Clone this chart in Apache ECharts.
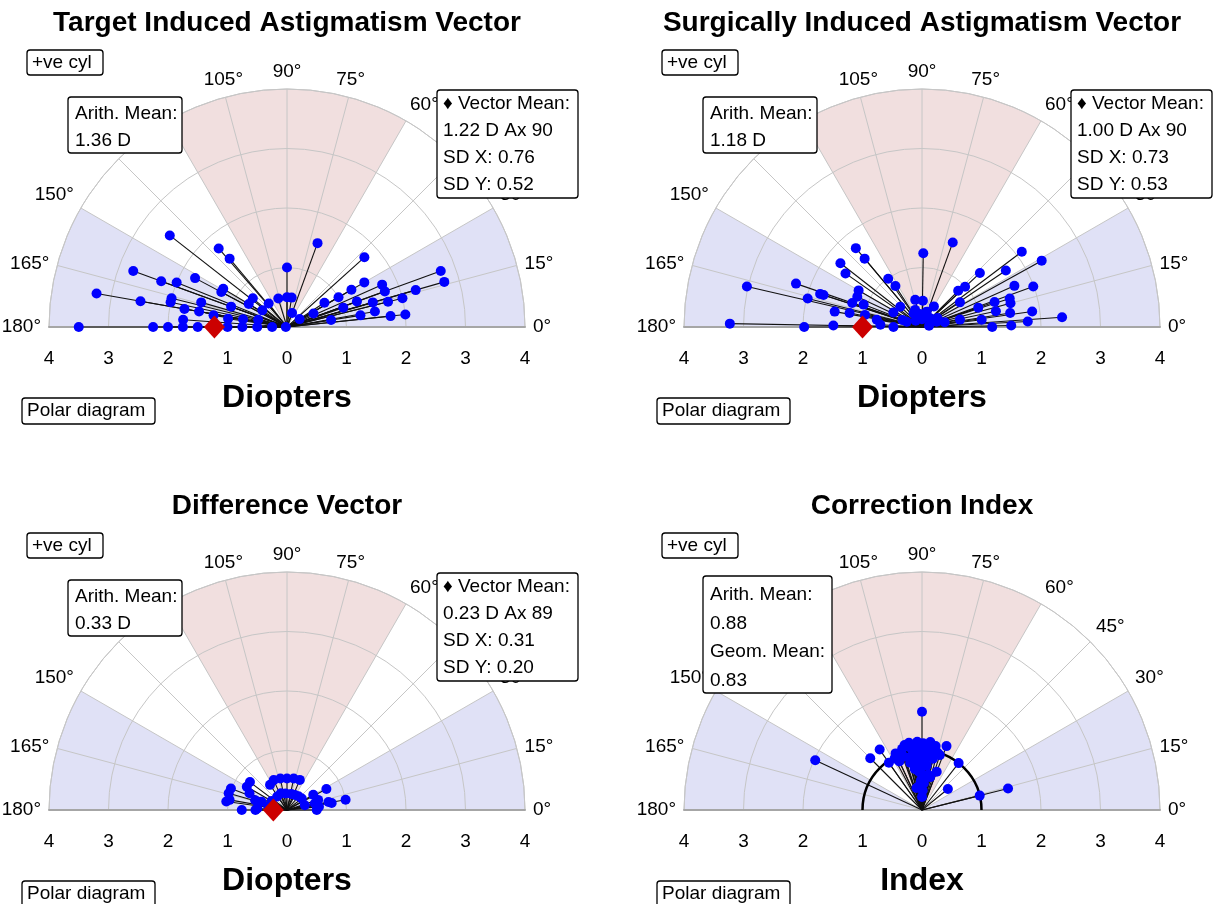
<!DOCTYPE html>
<html><head><meta charset="utf-8">
<script src="https://cdn.jsdelivr.net/npm/echarts@6/dist/echarts.min.js"></script>
<style>html,body{margin:0;padding:0;background:#fff}#c{width:1213px;height:904px}</style>
</head><body><div id="c"></div><script>
// ---- data: [magnitude, plotted angle in degrees] ----
const tiaPoints = [
 [2.5,142],[1.75,131],[1.5,130],[1.0,90],[2.75,160],[2.25,160],[2.0,158],[1.75,152],[3.25,170],[2.5,170],
 [2.0,166],[2.0,168],[1.25,149],[1.25,152],[1.5,164],[1.75,170],[1.5,170],[1.0,160],[0.75,140],[0.75,149],
 [0.5,107],[0.5,128],[0.5,146],[1.25,171],[1.75,176],[1.0,172],[0.75,170],[0.5,166],[0.5,90],
 [3.5,180],[2.25,180],[2.0,180],[1.75,180],[1.5,180],[1.0,180],[0.75,180],[0.5,180],[0.25,180],[0.02,180],
 [1.5,70],[1.75,42],[2.75,20],[2.75,16],[1.5,30],[1.75,24],[1.25,30],[1.75,20],[2.25,16],[1.0,30],
 [0.75,33],[1.25,20],[1.5,16],[1.75,14],[2.0,14],[0.5,81],[1.0,19],[1.5,10],[1.25,9],[1.75,6],
 [2.0,6],[0.75,9],[0.5,27],[0.25,32],[0.25,70]
];
const siaPoints = [
 [1.73,130],[1.5,130],[1.74,142],[1.57,145],[1.24,89],[0.99,125],[0.82,123],[2.24,161],[3.02,167],[1.8,162],
 [1.74,162],[1.98,166],[1.23,150],[1.2,155],[1.24,161],[1.05,159],[1.49,170],[1.24,169],[1.49,179],[1.98,180],
 [3.23,179],[0.7,177],[0.48,180],[0.27,161],[0.47,104],[0.5,137],[0.54,153],[0.27,122],[0.98,168],[0.77,171],
 [1.51,70],[2.1,37],[2.3,29],[1.33,43],[1.7,34],[1.7,24],[1.99,20],[0.99,43],[0.86,45],[0.76,33],
 [1.0,19],[1.29,19],[1.55,18],[1.54,15],[1.27,12],[1.5,9],[1.87,8],[1.78,3],[2.36,4],[1.01,7],
 [1.18,0],[1.5,1],[0.65,11],[0.26,20],[0.44,88],[0.27,73],[0.31,112],[0.13,90],
 [0.2,50],[0.39,12],[0.35,160],[0.15,135],[0.3,30],[0.22,100],[0.4,60],[0.12,10]
];
const dvPoints = [
 [1.01,159],[1.02,164],[1.03,172],[0.98,170],[0.76,180],[0.78,143],[0.78,150],[0.69,156],[0.56,163],[0.5,177],
 [0.45,162],[0.51,124],[0.55,114],[0.54,102],[0.53,90],[0.54,78],[0.55,67],[0.28,126],[0.28,95],[0.285,62],
 [0.315,38],[0.31,15],[0.51,30],[0.48,13],[0.5,0],[0.75,28],[0.71,11],[0.76,9],[1.0,10],[0.54,6],
 [0.3,150],[0.32,170],[0.3,110],[0.28,75],[0.3,50],[0.53,180],[0.55,18]
];
const ciPoints = [
 [1.65,90],[1.98,155],[1.24,125],[1.23,135],[0.97,125],[1.49,14],[1.0,14],[0.56,39],[1.0,52],[1.15,69],
 [0.69,69],[0.38,104],[0.22,90],[1.13,105],[1.15,94],[1.15,83],[0.95,109],[1.0,89],[0.97,72],[0.73,89],
 [0.59,90],[0.57,76],[1.05,100],[1.1,97],[1.08,86],[1.02,80],[0.95,95],[0.9,85],[0.92,102],[0.88,78],
 [1.0,110],[1.05,115],[0.98,118],[0.85,92],[0.8,98],[0.75,84],[0.65,95],[0.5,92],[0.45,86],[1.12,89],
 [1.1,78],[1.0,75],[0.9,115],[1.03,92],[0.94,88],[0.82,104],[0.7,100],[0.6,80],[0.42,95],[0.33,88],
 [1.08,108],[0.97,98],[1.15,101]
];
const tiaMean = [1.22, 180];
const siaMean = [1.00, 180];
const dvMean = [0.23, 180];
const ciReference = [1, 0];
// shaded zones: [fromAngle, toAngle, kind]
const shadeZones = [[0,30,'blue'],[60,120,'pink'],[150,180,'blue']];
const angleLabelStep = 15;
const radiusMax = 4;

const titles = ['Target Induced Astigmatism Vector','Surgically Induced Astigmatism Vector','Difference Vector','Correction Index'];
const units = ['Diopters','Diopters','Diopters','Index'];
const infoLeft = [['Arith. Mean:','1.36 D'],['Arith. Mean:','1.18 D'],['Arith. Mean:','0.33 D'],['Arith. Mean:','0.88','Geom. Mean:','0.83']];
const infoRight = [['\u2666 Vector Mean:','1.22 D Ax 90','SD X: 0.76','SD Y: 0.52'],['\u2666 Vector Mean:','1.00 D Ax 90','SD X: 0.73','SD Y: 0.53'],['\u2666 Vector Mean:','0.23 D Ax 89','SD X: 0.31','SD Y: 0.20'],null];
const pointSets = [tiaPoints, siaPoints, dvPoints, ciPoints];
const means = [tiaMean, siaMean, dvMean, null];

// ---- layout ----
const R = 238;
const centers = [[287,327],[922,327],[287,810],[922,810]];
const FONT = 'Liberation Sans, Arial, sans-serif';
const GRID = '#c6c6c6';
const ZONE_COLORS = {blue:'#e0e1f6', pink:'#f1dfdf'};

const polar=[], angleAxis=[], radiusAxis=[], grid=[], xAxis=[], yAxis=[], series=[], graphic=[];

function box(x, y, w, h, lines, first, step, pad){
  graphic.push({type:'rect', z:100, shape:{x:x, y:y, width:w, height:h, r:3}, style:{fill:'#fff', stroke:'#000', lineWidth:1.3}});
  lines.forEach((t,k)=>graphic.push({type:'text', z:101, style:{text:t, x:x+pad, y:y+first+k*step, font:'19px '+FONT, fill:'#000', textVerticalAlign:'middle'}}));
}
function scrAngle(c, p){ let a = Math.atan2(p[1]-c[1], p[0]-c[0]); if (a > 1e-9) a -= 2*Math.PI; return a; }

centers.forEach((c,i)=>{
  const cx=c[0], cy=c[1];
  polar.push({center:[cx,cy], radius:R});
  angleAxis.push({polarIndex:i, type:'value', min:0, max:180, interval:angleLabelStep, startAngle:0, endAngle:180, clockwise:false, z:2,
    axisLine:{show:true, lineStyle:{color:GRID, width:1}}, axisTick:{show:false},
    axisLabel:{formatter:'{value}°', fontSize:19, color:'#000', margin:8, fontFamily:FONT},
    splitLine:{show:true, lineStyle:{color:GRID, width:1}}, splitArea:{show:false}});
  radiusAxis.push({polarIndex:i, type:'value', min:0, max:radiusMax, interval:1, z:2,
    axisLine:{show:false}, axisTick:{show:false}, axisLabel:{show:false},
    splitLine:{show:true, lineStyle:{color:GRID, width:1}}});
  grid.push({left:cx-R, top:cy-R, width:2*R, height:R});
  xAxis.push({gridIndex:i, type:'value', min:-4, max:4, interval:1, z:2,
    axisLabel:{formatter:v=>String(Math.abs(v)), fontSize:19, color:'#000', margin:22, fontFamily:FONT},
    axisLine:{show:true, onZero:false, lineStyle:{color:'#a6a6a6', width:2}}, axisTick:{show:false}, splitLine:{show:false},
    name:units[i], nameLocation:'middle', nameGap:55,
    nameTextStyle:{fontSize:32, fontWeight:'bold', color:'#000', fontFamily:FONT}});
  yAxis.push({gridIndex:i, type:'value', min:0, max:4, show:false});

  // shaded sectors
  series.push({type:'custom', coordinateSystem:'polar', polarIndex:i, z:1, silent:true,
    data:shadeZones.map(z=>[radiusMax, z[0], z[1]]),
    dimensions:['radius','angle','angle2'],
    renderItem:(params, api)=>{
      const r=api.value(0), a0=api.value(1), a1=api.value(2);
      const c0=api.coord([0,a0]), p0=api.coord([r,a0]), p1=api.coord([r,a1]);
      const s0=scrAngle(c0,p0), s1=scrAngle(c0,p1);
      const kind = shadeZones[params.dataIndex][2];
      return {type:'sector', shape:{cx:c0[0], cy:c0[1], r0:0, r:Math.hypot(p0[0]-c0[0],p0[1]-c0[1]), startAngle:Math.min(s0,s1), endAngle:Math.max(s0,s1), clockwise:true},
        style:{fill:ZONE_COLORS[kind]}};
    }});
  series.push({type:'custom', coordinateSystem:'polar', polarIndex:i, z:3, silent:true, data:pointSets[i],
    renderItem:(params, api)=>{
      const r=api.value(0), a=api.value(1);
      const p0=api.coord([0,a]), p1=api.coord([r,a]);
      return {type:'line', shape:{x1:p0[0], y1:p0[1], x2:p1[0], y2:p1[1]}, style:{stroke:'#111', lineWidth:1.1}};
    }});
  series.push({type:'scatter', coordinateSystem:'polar', polarIndex:i, z:4, data:pointSets[i], symbol:'circle', symbolSize:10,
    itemStyle:{color:'#0000ff', opacity:1}});
  if (means[i]) series.push({type:'scatter', coordinateSystem:'polar', polarIndex:i, z:5, data:[means[i]], symbol:'diamond', symbolSize:[21,23],
    itemStyle:{color:'#cc0000', opacity:1}});
  if (i===3) series.push({type:'custom', coordinateSystem:'polar', polarIndex:i, z:3, silent:true, data:[ciReference],
    renderItem:(params, api)=>{
      const c0=api.coord([0,0]), p=api.coord([api.value(0),0]);
      const r=Math.hypot(p[0]-c0[0], p[1]-c0[1]);
      return {type:'arc', shape:{cx:c0[0], cy:c0[1], r:r, startAngle:Math.PI, endAngle:2*Math.PI}, style:{stroke:'#000', lineWidth:2.5, fill:null}};
    }});

  graphic.push({type:'text', z:100, style:{text:titles[i], x:cx, y:cy-304, font:'bold 28px '+FONT, fill:'#000', textAlign:'center', textVerticalAlign:'middle'}});
  const bx = cx-287;
  box(bx+27, cy-277, 76, 25, ['+ve cyl'], 12.5, 0, 5);
  box(bx+22, cy+71, 133, 26, ['Polar diagram'], 13, 0, 5);
  if (i<3) box(bx+68, cy-230, 114, 56, infoLeft[i], 17, 27, 7);
  else box(bx+68, cy-234, 129, 117, infoLeft[i], 19, 28.5, 7);
  if (infoRight[i]) box(bx+437 + (i===1?-1:0), cy-237, 141, 108, infoRight[i], 14, 27, 6);
});

const chart = echarts.init(document.getElementById('c'));
chart.setOption({animation:false, backgroundColor:'#fff', polar, angleAxis, radiusAxis, grid, xAxis, yAxis, series, graphic});
</script></body></html>
